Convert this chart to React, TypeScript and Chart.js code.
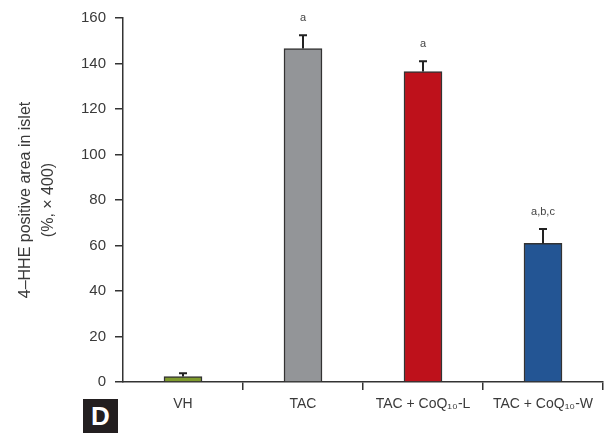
import React, { useEffect, useRef } from "react";
import { Chart, registerables } from "chart.js";

Chart.register(...registerables);

const categories = ["VH", "TAC", "TAC + CoQ₁₀-L", "TAC + CoQ₁₀-W"];
const means = [2.4, 146.6, 136.5, 60.9];
const errors = [1.4, 5.8, 4.5, 6.3];
const sigLabels = ["", "a", "a", "a,b,c"];
const barColors = ["#7f9b2d", "#939598", "#be111b", "#235594"];
const yTicks = [0, 20, 40, 60, 80, 100, 120, 140, 160];

const FONT = "'Liberation Sans', Arial, sans-serif";
const AXIS = "#333333";
const TEXT = "#3a3a3a";

const errorBarPlugin = {
  id: "errorBars",
  afterDatasetsDraw(chart: any) {
    const { ctx } = chart;
    const meta = chart.getDatasetMeta(0);
    const y = chart.scales.y;
    ctx.save();
    meta.data.forEach((bar: any, i: number) => {
      const x = bar.x;
      const top = y.getPixelForValue(means[i]);
      const capY = y.getPixelForValue(means[i] + errors[i]);
      ctx.strokeStyle = "#222";
      ctx.lineWidth = 2;
      ctx.beginPath();
      ctx.moveTo(x, top);
      ctx.lineTo(x, capY);
      ctx.moveTo(x - 4, capY);
      ctx.lineTo(x + 4, capY);
      ctx.stroke();
      if (sigLabels[i]) {
        ctx.fillStyle = "#444";
        ctx.font = `11px ${FONT}`;
        ctx.textAlign = "center";
        ctx.textBaseline = "middle";
        ctx.fillText(sigLabels[i], x, capY - 17);
      }
    });
    ctx.restore();
  },
};

export default function App() {
  const ref = useRef<HTMLCanvasElement>(null);
  useEffect(() => {
    if (!ref.current) return;
    const chart = new Chart(ref.current, {
      type: "bar",
      data: {
        labels: categories,
        datasets: [
          {
            data: means,
            backgroundColor: barColors,
            borderColor: "#333",
            borderWidth: 1.5,
            barThickness: 38,
          },
        ],
      },
      options: {
        responsive: false,
        animation: false,
        layout: { padding: { top: 18, right: 2, left: 0, bottom: 0 } },
        plugins: {
          legend: { display: false },
          tooltip: { enabled: false },
        },
        scales: {
          x: {
            offset: true,
            grid: {
              offset: true,
              drawOnChartArea: false,
              tickLength: 8,
              lineWidth: 1.5,
              color: (c: any) => (c.index === 0 ? "rgba(0,0,0,0)" : AXIS),
            },
            border: { color: AXIS, width: 1.5 },
            ticks: {
              color: TEXT,
              font: { family: FONT, size: 14 },
              padding: 6,
              maxRotation: 0,
            },
            afterFit: (s: any) => {
              s.height = 51;
            },
          },
          y: {
            min: 0,
            max: 160,
            afterBuildTicks: (s: any) => {
              s.ticks = yTicks.map((v) => ({ value: v }));
            },
            grid: {
              drawOnChartArea: false,
              tickLength: 8,
              lineWidth: 1.5,
              color: AXIS,
            },
            border: { color: AXIS, width: 1.5 },
            ticks: {
              color: TEXT,
              font: { family: FONT, size: 15 },
              padding: 9,
            },
            title: {
              display: true,
              text: ["4–HHE positive area in islet", "(%, × 400)"],
              color: TEXT,
              font: { family: FONT, size: 16, lineHeight: 1.44 },
              padding: { top: 14, bottom: 0 },
            },
            afterFit: (s: any) => {
              s.width = 123;
            },
          },
        },
      },
      plugins: [errorBarPlugin],
    });
    return () => chart.destroy();
  }, []);

  return (
    <div style={{ position: "fixed", left: 0, top: 0, width: 605, height: 433, background: "#fff" }}>
      <canvas ref={ref} width={605} height={433} style={{ display: "block" }} />
      <div
        style={{
          position: "absolute",
          left: 83,
          top: 399,
          width: 35,
          height: 34,
          background: "#231f20",
          color: "#fff",
          fontFamily: FONT,
          fontWeight: "bold",
          fontSize: 26,
          lineHeight: "34px",
          textAlign: "center",
        }}
      >
        D
      </div>
    </div>
  );
}
